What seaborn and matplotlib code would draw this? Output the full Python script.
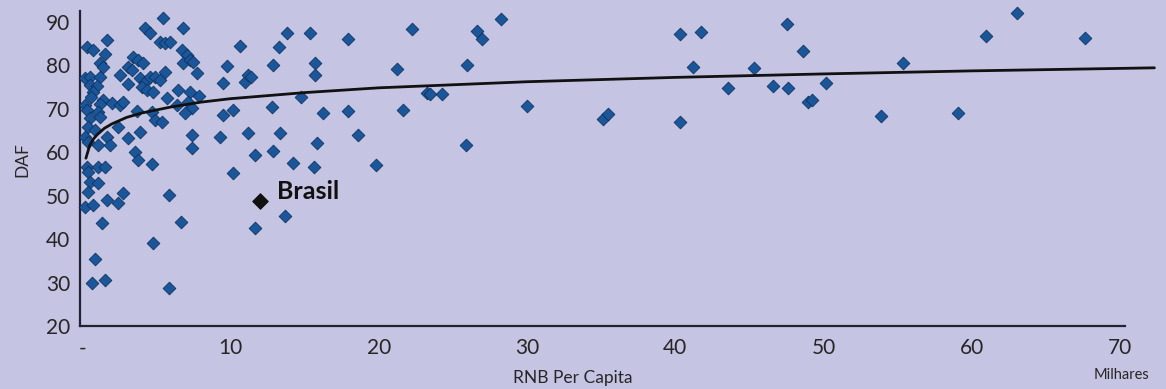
import matplotlib
matplotlib.use("Agg")
import matplotlib.pyplot as plt
import seaborn as sns
import pandas as pd

# RNB per capita (thousands) and DAF
rnb = [0.34, 0.74, 1.69, 1.55, 1.21, 1.42, 0.20, 0.54, 1.21, 0.54, 1.01, 0.74, 0.61, 1.42, 1.21,
       2.02, 2.56, 2.76, 0.20, 0.34, 1.08, 0.54, 1.21, 0.40, 0.88, 0.20, 0.40, 1.08, 1.69, 1.89,
       2.43, 3.10, 3.57, 3.91, 3.78, 4.72, 0.34, 0.40, 1.08, 1.55, 0.54, 1.08, 0.40, 0.20, 0.74,
       1.69, 2.43, 2.76, 1.35, 0.88, 0.67, 1.55, 4.79, 5.87, 6.68, 5.87,
       3.44, 3.78, 4.11, 3.10, 3.37, 2.56, 3.10, 3.91, 4.25, 4.59, 4.92, 5.26, 4.05, 4.38, 4.79,
       4.25, 4.59, 5.46, 5.26, 5.60, 5.93, 6.81, 6.74, 7.08, 6.81, 7.28, 7.48, 7.75, 5.60, 6.47,
       7.28, 5.73, 7.15, 7.89, 7.42, 6.41, 6.95, 3.71, 4.72, 4.92, 5.39, 7.42, 7.42,
       9.51, 10.18, 9.51, 9.78, 10.65, 9.31, 10.18, 11.19, 10.99, 11.19, 11.40, 11.67, 12.81,
       12.88, 13.28, 13.35, 12.88, 13.82, 14.23, 14.77, 15.37, 15.71, 15.71, 16.25, 15.85, 15.64,
       17.94, 17.94, 18.61, 19.82, 21.24, 21.65, 11.67, 13.69,
       22.25, 23.26, 23.47, 24.28, 25.96, 26.64, 26.97, 25.89, 28.25, 30.01, 35.13, 35.47, 40.32,
       41.74, 41.20, 40.32, 43.56, 45.31, 46.59, 47.61, 47.54, 48.62, 50.17, 48.95, 49.22, 55.36,
       53.88, 59.07, 60.96, 63.05, 67.63]
daf = [84.2, 83.6, 85.9, 82.6, 80.6, 79.6, 77.1, 77.3, 77.3, 75.5, 75.3, 73.9, 72.7, 72.0, 71.1,
       71.3, 70.9, 71.6, 70.9, 69.7, 69.3, 67.9, 68.1, 65.8, 65.1, 63.5, 62.4, 61.7, 63.5, 61.7,
       65.8, 63.3, 60.1, 64.7, 58.2, 57.3, 56.6, 55.5, 56.6, 56.6, 53.2, 52.9, 50.9, 47.4, 47.9,
       49.0, 48.3, 50.6, 43.7, 35.4, 29.9, 30.6, 39.1, 50.2, 43.9, 28.7,
       81.9, 81.2, 80.6, 79.6, 78.9, 77.8, 75.7, 77.1, 76.2, 77.3, 77.3, 76.6, 75.0, 74.3, 73.9,
       88.6, 87.5, 90.9, 85.4, 85.2, 85.4, 88.6, 83.6, 82.4, 80.6, 81.2, 80.8, 78.3, 78.5, 74.3,
       73.9, 72.5, 71.6, 73.0, 70.2, 70.9, 69.0, 69.5, 69.3, 67.4, 67.0, 64.0, 61.0,
       68.6, 69.7, 75.9, 79.9, 84.5, 63.5, 55.2, 64.4, 76.2, 77.8, 77.3, 59.4, 70.4,
       80.1, 84.2, 64.4, 60.3, 87.5, 57.5, 72.7, 87.5, 80.6, 77.8, 69.0, 62.1, 56.6,
       86.1, 69.5, 64.0, 57.1, 79.2, 69.7, 42.6, 45.3,
       88.4, 73.6, 73.4, 73.4, 80.1, 87.9, 86.1, 61.7, 90.7, 70.7, 67.7, 68.8, 87.2,
       87.7, 79.6, 67.0, 74.8, 79.4, 75.3, 74.8, 89.5, 83.3, 75.9, 71.6, 72.0, 80.6,
       68.4, 69.0, 86.8, 92.1, 86.3]

brasil_rnb = [12.0]
brasil_daf = [48.8]
brasil_label = "Brasil"

# logarithmic trend line
trend_x = [0.25, 0.5, 0.75, 1.0, 1.5, 2.0, 3.0, 4.0, 6.0, 8.0, 10.0, 15.0, 20.0, 30.0, 40.0,
           50.0, 60.0, 72.3]
trend_y = [58.6, 61.5, 63.0, 64.0, 65.5, 66.5, 68.0, 69.0, 70.4, 71.5, 72.3, 73.7, 74.8, 76.2,
           77.2, 78.0, 78.7, 79.4]

xticks = [0, 10, 20, 30, 40, 50, 60, 70]
xtick_labels = ["-", "10", "20", "30", "40", "50", "60", "70"]
yticks = [20, 30, 40, 50, 60, 70, 80, 90]

BG = "#c5c5e3"
BLUE = "#1a5699"
EDGE = "#0f3361"
TXT = "#262626"

sns.set_theme(style="white")
plt.rcParams["font.family"] = ["Lato", "DejaVu Sans"]

fig = plt.figure(figsize=(11.66, 3.89), dpi=100, facecolor=BG)
ax = fig.add_axes([0.0686, 0.162, 0.924, 0.81])
ax.set_facecolor(BG)

df = pd.DataFrame({"rnb": rnb, "daf": daf})
sns.scatterplot(data=df, x="rnb", y="daf", marker="D", s=42, color=BLUE,
                edgecolor=EDGE, linewidth=0.6, ax=ax, clip_on=False, zorder=3)
sns.lineplot(x=trend_x, y=trend_y, color="#111111", linewidth=2.0, ax=ax,
             zorder=4, estimator=None, sort=False)
bdf = pd.DataFrame({"rnb": brasil_rnb, "daf": brasil_daf})
sns.scatterplot(data=bdf, x="rnb", y="daf", marker="D", s=64, color="#111111",
                edgecolor="#111111", ax=ax, zorder=5)
ax.annotate(brasil_label, (brasil_rnb[0], brasil_daf[0]), xytext=(12, 7),
            textcoords="offset points", fontsize=18, fontweight="bold",
            color="#111111", va="center", ha="left")

ax.set_xlim(-0.15, 72.5)
ax.set_ylim(20, 92.5)
ax.set_xticks(xticks)
ax.set_xticklabels(xtick_labels)
ax.set_yticks(yticks)
ax.tick_params(axis="both", length=0, labelsize=15, colors=TXT)
ax.tick_params(axis="x", pad=9)
ax.tick_params(axis="y", pad=7)
ax.set_xlabel("")
ax.set_ylabel("")
for side in ["top", "right"]:
    ax.spines[side].set_visible(False)
for side in ["left", "bottom"]:
    ax.spines[side].set_color("#222233")
    ax.spines[side].set_linewidth(1.6)
ax.spines["bottom"].set_bounds(-0.15, 70.3)
ax.grid(False)

fig.text(0.491, 0.028, "RNB Per Capita", ha="center", va="center", fontsize=12.5, color=TXT)
fig.text(0.962, 0.036, "Milhares", ha="center", va="center", fontsize=10.5, color=TXT)
fig.text(0.019, 0.59, "DAF", ha="center", va="center", rotation=90, fontsize=12.5, color=TXT)

fig.savefig("out.png", dpi=100, facecolor=BG)
